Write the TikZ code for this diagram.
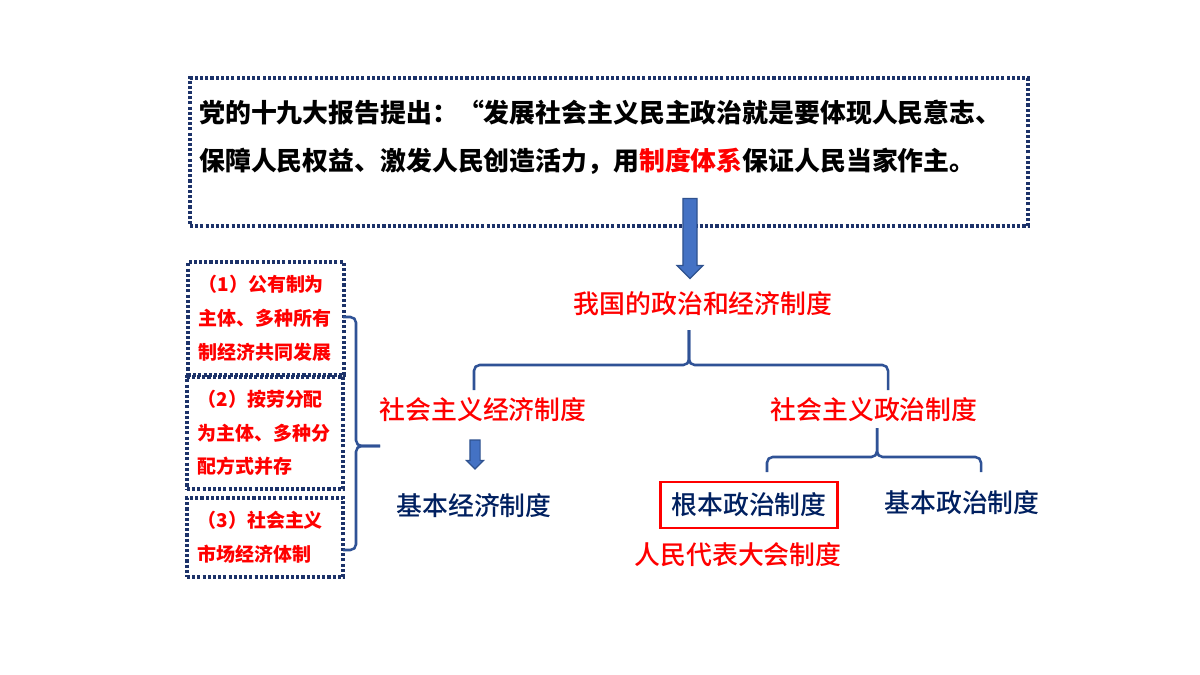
\documentclass[tikz,border=0pt]{standalone}
\usepackage{fontspec}
\setmainfont{Noto Sans CJK SC}
\newfontfamily\mediumcjk{Noto Sans CJK SC Medium}
\usetikzlibrary{shapes,arrows,positioning}
\definecolor{boxblue}{RGB}{28,50,105}
\definecolor{bracketblue}{RGB}{47,82,150}
\definecolor{arrowblue}{RGB}{68,114,196}
\definecolor{arrowedge}{RGB}{47,82,143}
\definecolor{navytext}{RGB}{0,32,96}
\definecolor{keyred}{RGB}{255,0,0}

\begin{document}
\begin{tikzpicture}[
    x=0.025cm, y=-0.025cm,
    bigtext/.style={font=\fontsize{18.4}{22}\selectfont\mediumcjk, inner sep=0pt},
    reporttext/.style={font=\fontsize{18.4}{22}\selectfont\bfseries, inner sep=0pt, anchor=west},
    dotbox/.style={draw=boxblue, line width=2.4pt, dash pattern=on 2.2pt off 1.5pt},
    itembox/.style={dotbox, text=keyred, font=\fontsize{13.5}{24}\selectfont\bfseries, text width=96pt, align=left, inner xsep=7.5pt, inner ysep=0pt},
    downarrow/.style={single arrow, rotate=-90, fill=arrowblue, draw=arrowedge, line width=0.8pt, inner xsep=0pt, single arrow tip angle=90},
    brace/.style={draw=bracketblue, line width=1.8pt, rounded corners=4pt}
]
\fill[white] (0,0) rectangle (1200,675);
\useasboundingbox (0,0) rectangle (1200,675);

% Report box
\node[dotbox, minimum width=596pt, minimum height=105pt] (report) at (609,152) {};
\node[reporttext] (line1) at (199,113) {党的十九大报告提出：“发展社会主义民主政治就是要体现人民意志、};
\node[reporttext] (line2) at (199,161) {保障人民权益、激发人民创造活力，用\textcolor{keyred}{制度体系}保证人民当家作主。};

% Big arrow
\node[downarrow, minimum height=56.9pt, inner ysep=4.6pt, single arrow head extend=4.3pt] (down) at (690,235) {};

% Title
\node[bigtext, text=keyred] (system) at (703,304) {我国的政治和经济制度};

% Two systems
\node[bigtext, text=keyred] (econ) at (483,410) {社会主义经济制度};
\node[bigtext, text=keyred] (polit) at (874,410) {社会主义政治制度};

% Economic side
\node[downarrow, minimum height=20.6pt, inner ysep=3.2pt, single arrow head extend=2.5pt] (econdown) at (475,452) {};
\node[bigtext, text=navytext] (basicecon) at (474,506) {基本经济制度};

% Political side
\node[bigtext, text=navytext, draw=keyred, line width=2pt, minimum width=125.9pt, minimum height=32.7pt] (root) at (749,505) {根本政治制度};
\node[bigtext, text=keyred] (npc) at (738,555) {人民代表大会制度};
\node[bigtext, text=navytext] (basicpol) at (962,503) {基本政治制度};

% Left items
\node[itembox, minimum width=109.5pt, minimum height=80.4pt] (item1) at (266,318.5) {（1）公有制为\\主体、多种所有\\制经济共同发展};
\node[itembox, minimum width=111pt, minimum height=79.7pt] (item2) at (265,433) {（2）按劳分配\\为主体、多种分\\配方式并存};
\node[itembox, minimum width=111pt, minimum height=56.2pt] (item3) at (265,537.5) {（3）社会主义\\市场经济体制};

% Brace points
\coordinate (systip) at (689,330);
\coordinate (syshub) at (689,365);
\coordinate (econleg) at (474,390);
\coordinate (politleg) at (888,390);
\coordinate (polittip) at (877,428);
\coordinate (polithub) at (877,457);
\coordinate (rootleg) at (767,472);
\coordinate (basicleg) at (981,472);
\coordinate (itemtop) at (343,317);
\coordinate (itembot) at (343,550);
\coordinate (itemhub) at (356,446);
\coordinate (itemtip) at (380,446);

% Braces
\draw[brace] (econleg) |- (syshub) -- (systip);
\draw[brace] (politleg) |- (syshub) -- (systip);
\draw[brace] (rootleg) |- (polithub) -- (polittip);
\draw[brace] (basicleg) |- (polithub) -- (polittip);
\draw[brace] (itemtop) -| (itemhub) -- (itemtip);
\draw[brace] (itembot) -| (itemhub) -- (itemtip);

\end{tikzpicture}
\end{document}
